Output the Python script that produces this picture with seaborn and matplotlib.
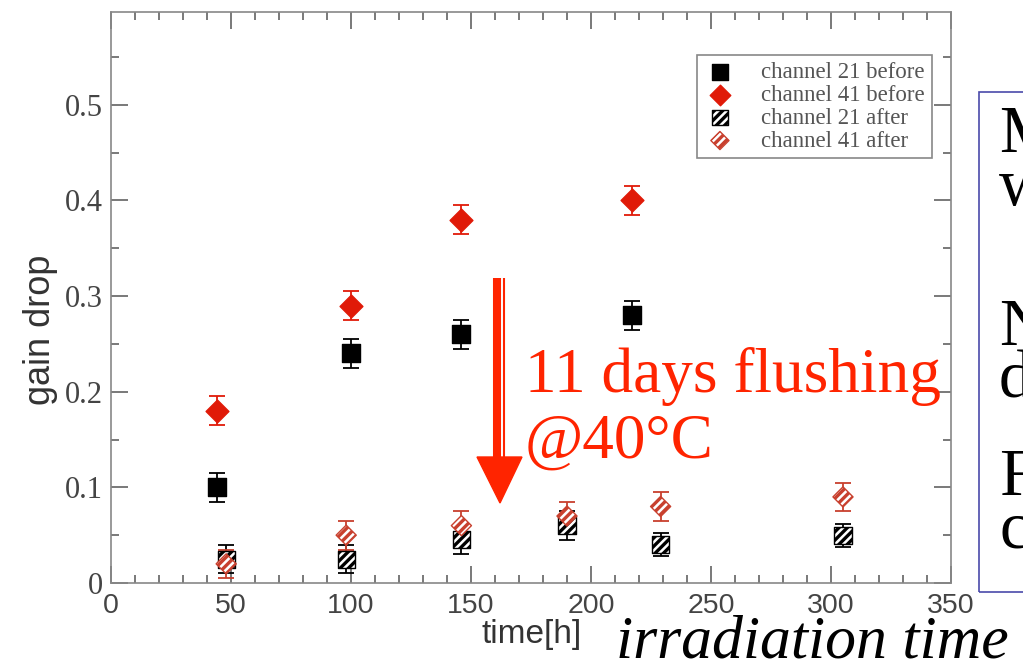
import matplotlib
matplotlib.use("Agg")
import matplotlib.pyplot as plt
import seaborn as sns
import pandas as pd
from matplotlib.patches import Rectangle, Polygon
from matplotlib.lines import Line2D
from matplotlib.ticker import MultipleLocator

# values
time_21_before = [44, 100, 146, 217]
gain_21_before = [0.10, 0.24, 0.26, 0.28]
err_21_before = [0.015, 0.015, 0.015, 0.015]

time_41_before = [44, 100, 146, 217]
gain_41_before = [0.18, 0.29, 0.38, 0.40]
err_41_before = [0.015, 0.015, 0.015, 0.015]

time_21_after = [48, 98, 146, 190, 229, 305]
gain_21_after = [0.025, 0.025, 0.045, 0.06, 0.04, 0.05]
err_21_after = [0.015, 0.015, 0.015, 0.015, 0.012, 0.012]

time_41_after = [48, 98, 146, 190, 229, 305]
gain_41_after = [0.02, 0.05, 0.06, 0.07, 0.08, 0.09]
err_41_after = [0.015, 0.015, 0.015, 0.015, 0.015, 0.015]

labels = ["channel 21 before", "channel 41 before", "channel 21 after", "channel 41 after"]

x_ticks = [0, 50, 100, 150, 200, 250, 300, 350]
x_tick_labels = ["0", "50", "100", "150", "200", "250", "300", "350"]
y_ticks = [0, 0.1, 0.2, 0.3, 0.4, 0.5]
y_tick_labels = ["0", "0.1", "0.2", "0.3", "0.4", "0.5"]

W, H = 1023, 666


def fx(px):
    return px / W


def fy(py):
    return 1 - py / H


sns.set_theme(style="ticks")
plt.rcParams["hatch.linewidth"] = 2.4
plt.rcParams["font.family"] = ["Liberation Sans", "DejaVu Sans"]

RED = "#e01a08"
RED_LIGHT = "#c8402e"
BRIGHT = "#ff2400"
GRAY = "#444444"
SERIF = ["Liberation Serif", "DejaVu Serif"]

fig = plt.figure(figsize=(10.23, 6.66), dpi=100)
ax = fig.add_axes([fx(111), fy(583), (951 - 111) / W, (583 - 12) / H])

series = [
    (time_21_before, gain_21_before, err_21_before, "s", 150, "black", "black", None, "black"),
    (time_41_before, gain_41_before, err_41_before, "D", 135, RED, RED, None, RED),
    (time_21_after, gain_21_after, err_21_after, "s", 150, "white", "black", "////", "black"),
    (time_41_after, gain_41_after, err_41_after, "D", 105, "white", RED_LIGHT, "////", RED_LIGHT),
]

for (t, g, e, m, s, face, edge, hatch, ecol), lab in zip(series, labels):
    df = pd.DataFrame({"time": t, "gain": g})
    ax.errorbar(t, g, yerr=e, fmt="none", ecolor=ecol, elinewidth=1.3,
                capsize=6, capthick=1.3, zorder=2)
    kw = {}
    if hatch:
        kw["hatch"] = hatch
    sns.scatterplot(data=df, x="time", y="gain", marker=m, s=s, color=face,
                    edgecolor=edge, linewidth=1.0, label=lab, ax=ax,
                    zorder=3, legend=False, **kw)

ax.set_xlim(0, 350)
ax.set_ylim(0, 0.597)
ax.set_xticks(x_ticks)
ax.set_xticklabels(x_tick_labels)
ax.set_yticks(y_ticks)
ax.set_yticklabels(y_tick_labels)
ax.xaxis.set_minor_locator(MultipleLocator(10))
ax.yaxis.set_minor_locator(MultipleLocator(0.05))
ax.tick_params(which="both", direction="in", top=True, right=True,
               color="#555555", width=1.1)
ax.tick_params(which="major", length=12)
ax.tick_params(which="minor", length=6)
ax.tick_params(axis="x", pad=7, labelsize=20.5, labelcolor=GRAY)
ax.tick_params(axis="y", pad=6, labelsize=22, labelcolor=GRAY)
for lbl in ax.get_yticklabels():
    lbl.set_family(SERIF)
for sp in ax.spines.values():
    sp.set_color("#888888")
    sp.set_linewidth(1.2)

ax.set_xlabel("")
ax.set_ylabel("")
fig.text(fx(532), fy(635), "time[h]", fontsize=24, color="#333333",
         ha="center", va="center")
fig.text(fx(40), fy(330), "gain drop", fontsize=26, color="#333333",
         ha="center", va="center", rotation=90)

leg = ax.legend(loc="upper left", bbox_to_anchor=(fx(697), fy(55)),
                bbox_transform=fig.transFigure, borderaxespad=0,
                prop={"family": SERIF, "size": 16.5}, frameon=True,
                fancybox=False, edgecolor="#888888", framealpha=1,
                borderpad=0.3, labelspacing=0.08, handlelength=1.4,
                handletextpad=1.1, scatterpoints=1, markerscale=0.9)
leg.get_frame().set_linewidth(1.2)
for txt in leg.get_texts():
    txt.set_color("#555555")

# red arrow and note
fig.add_artist(Line2D([fx(497), fx(497)], [fy(278), fy(458)], color=BRIGHT,
                      lw=5.8, solid_capstyle="butt"))
fig.add_artist(Line2D([fx(504), fx(504)], [fy(278), fy(458)], color=BRIGHT,
                      lw=1.5, solid_capstyle="butt"))
fig.add_artist(Polygon([(fx(477), fy(457)), (fx(522), fy(457)), (fx(500), fy(503))],
                       closed=True, color=BRIGHT, transform=fig.transFigure))
fig.text(fx(525), fy(392), "11 days flushing", fontsize=45.5, family=SERIF,
         color=BRIGHT, va="baseline")
fig.text(fx(525), fy(458), "@40°C", fontsize=45.5, family=SERIF,
         color=BRIGHT, va="baseline")

# cut-off text box on the right
fig.add_artist(Rectangle((fx(979), fy(592)), 0.1, (592 - 92) / H,
                         transform=fig.transFigure, fill=False,
                         edgecolor="#4a4aaa", lw=1.2))
for letter, base in zip(["M", "w", "N", "d", "F", "c"], [152, 205, 345, 398, 495, 548]):
    fig.text(fx(999), fy(base), letter, fontsize=48, family=SERIF,
             color="black", va="baseline")

fig.text(fx(616), fy(658), "irradiation time", fontsize=44.5, family=SERIF,
         style="italic", color="black", va="baseline")

fig.savefig("out.png", dpi=100, facecolor="white")
